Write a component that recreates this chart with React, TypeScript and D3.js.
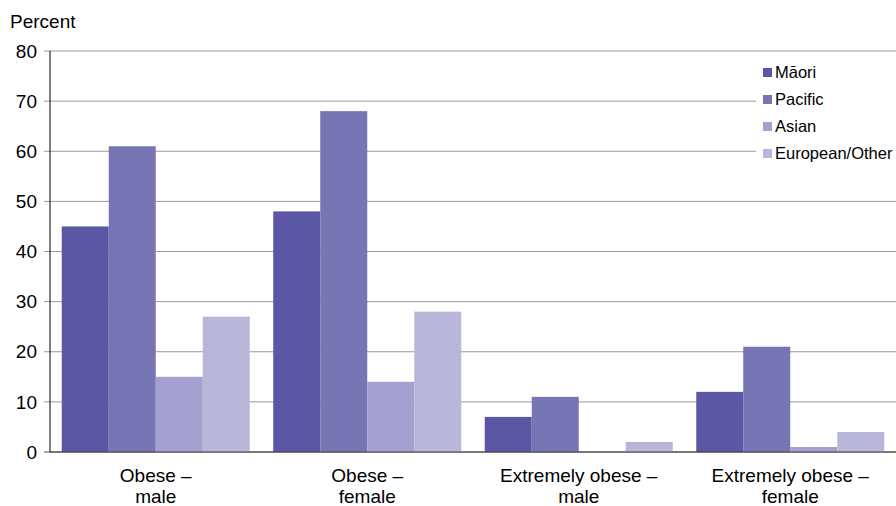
import React from "react";
import * as d3 from "d3";

const categories: string[][] = [
  ["Obese –", "male"],
  ["Obese –", "female"],
  ["Extremely obese –", "male"],
  ["Extremely obese –", "female"],
];
const seriesNames = ["Māori", "Pacific", "Asian", "European/Other"];
const maori = [45, 48, 7, 12];
const pacific = [61, 68, 11, 21];
const asian = [15, 14, 0, 1];
const european = [27, 28, 2, 4];
const yTicks = [0, 10, 20, 30, 40, 50, 60, 70, 80];
const colors = ["#5B57A5", "#7775B4", "#A4A1D0", "#B8B7DA"];

const W = 896;
const H = 506;
const M = { left: 50, right: 0, top: 51, bottom: 54 };
const FONT = "'Liberation Sans', Arial, sans-serif";

export default function App() {
  const series = [maori, pacific, asian, european];
  const x0 = d3
    .scaleBand<number>()
    .domain(categories.map((_, i) => i))
    .range([M.left, W - M.right])
    .paddingInner(0.111)
    .paddingOuter(0.0555);
  const x1 = d3
    .scaleBand<number>()
    .domain(seriesNames.map((_, i) => i))
    .range([0, x0.bandwidth()])
    .padding(0);
  const y = d3.scaleLinear().domain([0, 80]).range([H - M.bottom, M.top]);

  const legendX = 763;
  const legendY0 = 72.5;
  const legendDy = 27;

  return (
    <svg
      width={W}
      height={H}
      style={{ position: "absolute", left: 0, top: 0, background: "#fff" }}
      fontFamily={FONT}
    >
      <rect x={0} y={0} width={W} height={H} fill="#fff" />
      {/* gridlines */}
      {yTicks.map((t) => (
        <line
          key={"g" + t}
          x1={M.left - 6}
          x2={W}
          y1={y(t)}
          y2={y(t)}
          stroke={t === 0 ? "#555" : "#999"}
          strokeWidth={1}
        />
      ))}
      {/* y tick labels */}
      {yTicks.map((t) => (
        <text
          key={"t" + t}
          x={37}
          y={y(t)}
          dy="0.35em"
          textAnchor="end"
          fontSize={19}
          fill="#000"
        >
          {t}
        </text>
      ))}
      <text x={10} y={28} fontSize={19} fill="#000">
        Percent
      </text>
      {/* bars */}
      {series.map((vals, si) =>
        vals.map((v, ci) =>
          v > 0 ? (
            <rect
              key={`b${si}-${ci}`}
              x={(x0(ci) as number) + (x1(si) as number)}
              y={y(v)}
              width={x1.bandwidth()}
              height={y(0) - y(v)}
              fill={colors[si]}
            />
          ) : null
        )
      )}
      {/* y axis line */}
      <line x1={M.left} x2={M.left} y1={y(80)} y2={y(0)} stroke="#000" strokeWidth={1} />
      <line x1={M.left} x2={W} y1={y(0)} y2={y(0)} stroke="#444" strokeWidth={1} />
      {/* x labels */}
      {categories.map((lines, ci) => (
        <text
          key={"x" + ci}
          x={(x0(ci) as number) + x0.bandwidth() / 2}
          y={482}
          textAnchor="middle"
          fontSize={19}
          fill="#000"
        >
          {lines.map((l, li) => (
            <tspan key={li} x={(x0(ci) as number) + x0.bandwidth() / 2} dy={li === 0 ? 0 : 21}>
              {l}
            </tspan>
          ))}
        </text>
      ))}
      {/* legend */}
      <rect x={756} y={58} width={140} height={106} fill="#fff" />
      {seriesNames.map((n, i) => (
        <g key={"l" + i}>
          <rect
            x={legendX}
            y={legendY0 + i * legendDy - 4.5}
            width={9}
            height={9}
            fill={colors[i]}
          />
          <text
            x={legendX + 12}
            y={legendY0 + i * legendDy}
            dy="0.35em"
            fontSize={16.5}
            fill="#000"
          >
            {n}
          </text>
        </g>
      ))}
    </svg>
  );
}
